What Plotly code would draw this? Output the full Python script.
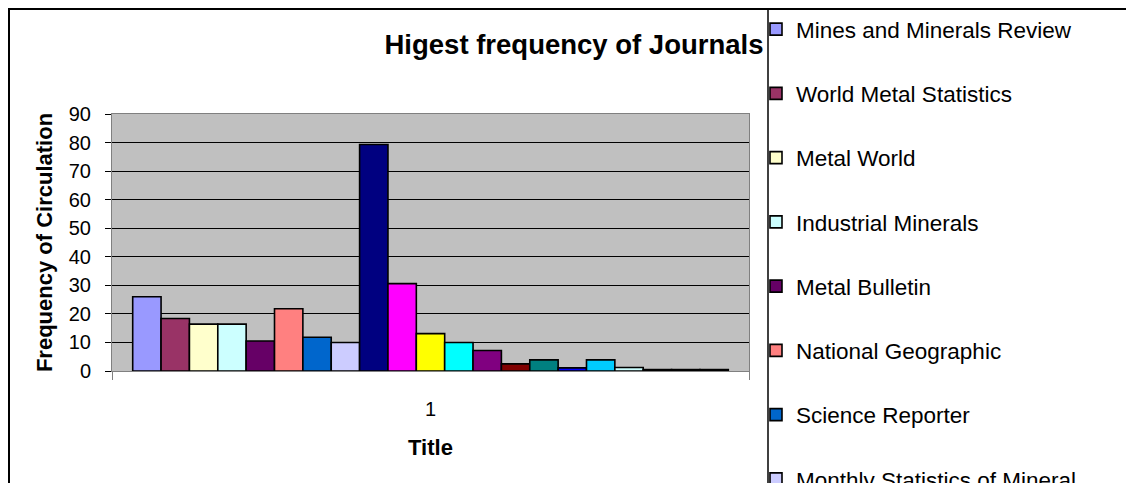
import plotly.graph_objects as go

# ---- data ----
category = ["1"]
journals = [
    "Mines and Minerals Review",
    "World Metal Statistics",
    "Metal World",
    "Industrial Minerals",
    "Metal Bulletin",
    "National Geographic",
    "Science Reporter",
    "Monthly Statistics of Mineral<br>Production",
    "Journal 9", "Journal 10", "Journal 11", "Journal 12", "Journal 13",
    "Journal 14", "Journal 15", "Journal 16", "Journal 17", "Journal 18",
    "Journal 19", "Journal 20", "Journal 21",
]
frequency = [26, 18.4, 16.4, 16.4, 10.5, 21.8, 11.8, 10,
             79.3, 30.6, 13.1, 10, 7.2, 2.5, 3.9, 1.1, 3.9, 1.2,
             0.5, 0.5, 0.5]
colors = ["#9999FF", "#993366", "#FFFFCC", "#CCFFFF", "#660066", "#FF8080",
          "#0066CC", "#CCCCFF", "#000080", "#FF00FF", "#FFFF00", "#00FFFF",
          "#800080", "#800000", "#008080", "#0000FF", "#00CCFF", "#CCFFFF",
          "#CCFFCC", "#FFFF99", "#99CCFF"]
y_ticks = [0, 10, 20, 30, 40, 50, 60, 70, 80, 90]

W, H = 1134, 483
OFF = 8  # page body margin offset
PL, PR, PT, PB = 112 - OFF, 749 - OFF, 114 - OFF, 371 - OFF  # plot area in figure px

FONT = "Liberation Sans, Arial, sans-serif"

fig = go.Figure()
for i, (name, val, col) in enumerate(zip(journals, frequency, colors)):
    fig.add_trace(go.Bar(
        x=category, y=[val], name=name, legendgroup=f"g{i}",
        marker=dict(color=col, line=dict(color="black", width=1.6)),
    ))

def px_x(p):
    return (p - OFF - PL) / (PR - PL)

def px_y(p):
    return (PB - (p - OFF)) / (PB - PT)

fig.update_layout(
    width=W, height=H,
    margin=dict(l=PL, r=W - PR, t=PT, b=H - PB, autoexpand=False),
    paper_bgcolor="white",
    plot_bgcolor="#C0C0C0",
    barmode="group", bargap=0.065, bargroupgap=0,
    font=dict(family=FONT, color="black"),
    title=dict(text="<b>Higest frequency of Journals</b>",
               font=dict(size=27.5, family=FONT, color="black"),
               x=(574 - OFF) / W, xref="container", xanchor="center",
               y=1 - (44 - OFF) / H, yref="container", yanchor="middle"),
    legend=dict(
        x=(756 - OFF) / W, xref="container", xanchor="left",
        y=1 - (2 - OFF) / H, yref="container", yanchor="top",
        font=dict(size=22.5, family=FONT, color="black"),
        tracegroupgap=32, maxheight=3000, valign="top",
        bgcolor="rgba(0,0,0,0)", borderwidth=0,
    ),
    xaxis=dict(
        type="category", tickson="boundaries", ticks="outside", ticklen=8,
        tickcolor="#808080", showline=True, linecolor="#808080", mirror=True,
        showgrid=False, tickfont=dict(size=20), ticklabelstandoff=20,
        title=dict(text="<b>Title</b>", font=dict(size=22), standoff=20),
    ),
    yaxis=dict(
        range=[0, 90], tickvals=y_ticks, ticks="outside", ticklen=6,
        tickcolor="black", showline=True, linecolor="#808080", mirror=True,
        showgrid=True, gridcolor="black", gridwidth=1,
        zeroline=True, zerolinecolor="black", zerolinewidth=1,
        tickfont=dict(size=20), ticklabelstandoff=10,
        title=dict(text="<b>Frequency of Circulation</b>", font=dict(size=22), standoff=10),
    ),
    shapes=[
        dict(type="rect", xref="paper", yref="paper",
             x0=px_x(9), x1=px_x(1160), y0=px_y(510), y1=px_y(9),
             line=dict(color="black", width=2), fillcolor="rgba(0,0,0,0)"),
        dict(type="line", xref="paper", yref="paper",
             x0=px_x(768), x1=px_x(768), y0=px_y(510), y1=px_y(9),
             line=dict(color="black", width=1.5)),
    ],
)

fig.write_html("out.html")
